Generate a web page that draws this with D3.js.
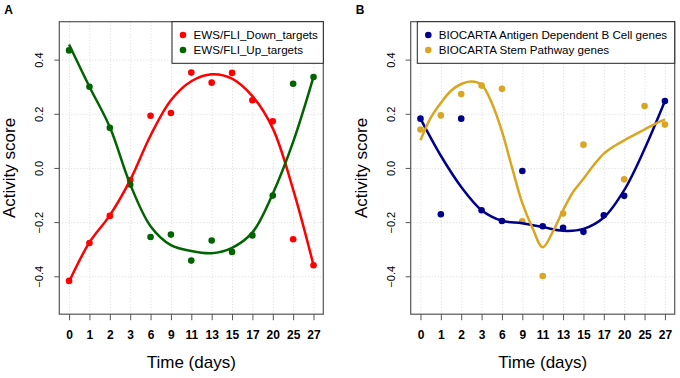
<!DOCTYPE html>
<html>
<head>
<meta charset="utf-8">
<script src="https://cdn.jsdelivr.net/npm/d3@7"></script>
<style>
  body { margin: 0; background: #fff; }
  svg { font-family: "Liberation Sans", Arial, sans-serif; }
</style>
</head>
<body>
<div id="chart"></div>
<script>
// time points (shown as equally spaced categories)
var days = ["0", "1", "2", "3", "6", "9", "11", "13", "15", "17", "20", "25", "27"];
var yTicks = [-0.4, -0.2, 0.0, 0.2, 0.4];

// panel A
var downTargets = [-0.417, -0.277, -0.177, -0.045, 0.193, 0.203, 0.352, 0.315, 0.351, 0.25, 0.172, -0.263, -0.359];
var upTargets = [0.434, 0.30, 0.148, -0.061, -0.255, -0.246, -0.342, -0.268, -0.31, -0.249, -0.102, 0.311, 0.336];
var downFit = [-0.42, -0.275, -0.175, -0.045, 0.12, 0.25, 0.32, 0.346, 0.33, 0.265, 0.146, -0.08, -0.359];
var upFit = [0.456, 0.30, 0.151, -0.06, -0.215, -0.285, -0.307, -0.315, -0.295, -0.238, -0.095, 0.096, 0.336];

// panel B (null = no point at that day)
var antigenB = [0.182, -0.171, 0.182, -0.156, -0.196, -0.011, -0.215, -0.221, -0.236, -0.175, -0.103, null, 0.247];
var stemPathway = [0.142, 0.194, 0.273, 0.304, 0.292, -0.197, -0.399, -0.168, 0.086, null, -0.042, 0.229, 0.16];
var antigenFit = [0.182, 0.045, -0.07, -0.156, -0.195, -0.204, -0.218, -0.232, -0.225, -0.183, -0.082, 0.07, 0.247];
var stemFitAt = [0, 0.5, 1, 1.5, 2, 2.5, 3, 3.5, 4, 4.5, 5, 5.5, 6, 6.5, 7, 7.5, 8, 8.5, 9, 9.5, 10, 10.5, 11, 11.5, 12];
var stemFit = [0.102, 0.185, 0.24, 0.285, 0.31, 0.319, 0.307, 0.24, 0.135, 0.0, -0.13, -0.222, -0.293, -0.235, -0.156, -0.088, -0.04, 0.01, 0.053, 0.08, 0.102, 0.122, 0.142, 0.162, 0.179];

var svg = d3.select("#chart").append("svg")
    .attr("width", 680)
    .attr("height", 378);

var width_p = 264, height_p = 292.5;

function drawPanel(left, label, series, legendLeft) {
    var g = svg.append("g")
        .attr("transform", "translate(" + left + ",21.7)");

    var x = d3.scaleLinear().domain([-0.48, 12.48]).range([0, width_p]);
    var y = d3.scaleLinear().domain([-0.54, 0.54]).range([height_p, 0]);

    // dotted grid
    g.append("g")
        .attr("class", "grid")
        .attr("transform", "translate(0," + height_p + ")")
        .call(d3.axisBottom(x).tickValues(d3.range(days.length)).tickSize(-height_p).tickFormat(""));
    g.append("g")
        .attr("class", "grid")
        .call(d3.axisLeft(y).tickValues(yTicks).tickSize(-width_p).tickFormat(""));
    g.selectAll(".grid line")
        .style("stroke", "#d9d9d9")
        .style("stroke-dasharray", "1,2");
    g.selectAll(".grid .domain").remove();

    // axes
    var x_axis = g.append("g")
        .attr("transform", "translate(0," + height_p + ")")
        .call(d3.axisBottom(x).tickValues(d3.range(days.length))
            .tickFormat(function (i) { return days[i]; }).tickSizeOuter(0).tickSizeInner(6).tickPadding(10));
    x_axis.select(".domain").remove();
    x_axis.selectAll("line").style("stroke", "#555");
    x_axis.selectAll("text")
        .style("font-size", "12px")
        .style("font-weight", "bold")
        .style("fill", "#000");

    var y_axis = g.append("g")
        .call(d3.axisLeft(y).tickValues(yTicks).tickFormat(d3.format(".1f"))
            .tickSizeOuter(0).tickSizeInner(5).tickPadding(0));
    y_axis.select(".domain").remove();
    y_axis.selectAll("line").style("stroke", "#555");
    y_axis.selectAll("text")
        .attr("x", null).attr("dy", null)
        .attr("transform", "translate(-16,0) rotate(-90)")
        .style("text-anchor", "middle")
        .style("font-size", "11px")
        .style("fill", "#000");

    g.append("rect")
        .attr("width", width_p)
        .attr("height", height_p)
        .attr("fill", "none")
        .attr("stroke", "#555")
        .attr("stroke-width", 1.2);

    // titles
    g.append("text")
        .attr("x", width_p / 2)
        .attr("y", height_p + 54)
        .attr("text-anchor", "middle")
        .style("font-size", "17px")
        .text("Time (days)");
    g.append("text")
        .attr("transform", "translate(-44," + (height_p / 2) + ") rotate(-90)")
        .attr("text-anchor", "middle")
        .style("font-size", "17px")
        .text("Activity score");
    svg.append("text")
        .attr("x", left - 55)
        .attr("y", 13.5)
        .style("font-size", "12px")
        .style("font-weight", "bold")
        .text(label);

    var line = d3.line()
        .x(function (d) { return x(d[0]); })
        .y(function (d) { return y(d[1]); })
        .curve(d3.curveCatmullRom.alpha(0.5));

    series.forEach(function (s) {
        var pts = s.values.map(function (v, i) { return [i, v]; })
            .filter(function (d) { return d[1] !== null; });
        g.selectAll(null)
            .data(pts)
            .enter()
            .append("circle")
            .attr("cx", function (d) { return x(d[0]); })
            .attr("cy", function (d) { return y(d[1]); })
            .attr("r", 3.3)
            .attr("fill", s.color);
    });
    series.forEach(function (s) {
        var at = s.fitAt || d3.range(s.fit.length);
        g.append("path")
            .datum(at.map(function (p, i) { return [p, s.fit[i]]; }))
            .attr("d", line)
            .attr("fill", "none")
            .attr("stroke", s.color)
            .attr("stroke-width", 2.5);
    });

    // legend, top right of the plot region
    var lg = g.append("g").attr("transform", "translate(" + legendLeft + ",0)");
    var lw = width_p - legendLeft;
    lg.append("rect")
        .attr("width", lw)
        .attr("height", 41.6)
        .attr("fill", "#fff")
        .attr("stroke", "#222")
        .attr("stroke-width", 1);
    series.forEach(function (s, i) {
        lg.append("circle")
            .attr("cx", 11)
            .attr("cy", 13.3 + i * 15)
            .attr("r", 3.3)
            .attr("fill", s.color);
        lg.append("text")
            .attr("x", 21.5)
            .attr("y", 13.3 + i * 15)
            .attr("dy", "0.35em")
            .style("font-size", "11.6px")
            .text(s.name);
    });
}

drawPanel(59.3, "A", [
    { name: "EWS/FLI_Down_targets", color: "#ff0000", values: downTargets, fit: downFit },
    { name: "EWS/FLI_Up_targets", color: "#006400", values: upTargets, fit: upFit }
], 112.7);

drawPanel(410.7, "B", [
    { name: "BIOCARTA Antigen Dependent B Cell genes", color: "#00008b", values: antigenB, fit: antigenFit },
    { name: "BIOCARTA Stem Pathway genes", color: "#daa520", values: stemPathway, fit: stemFit, fitAt: stemFitAt }
], 6.6);
</script>
</body>
</html>
